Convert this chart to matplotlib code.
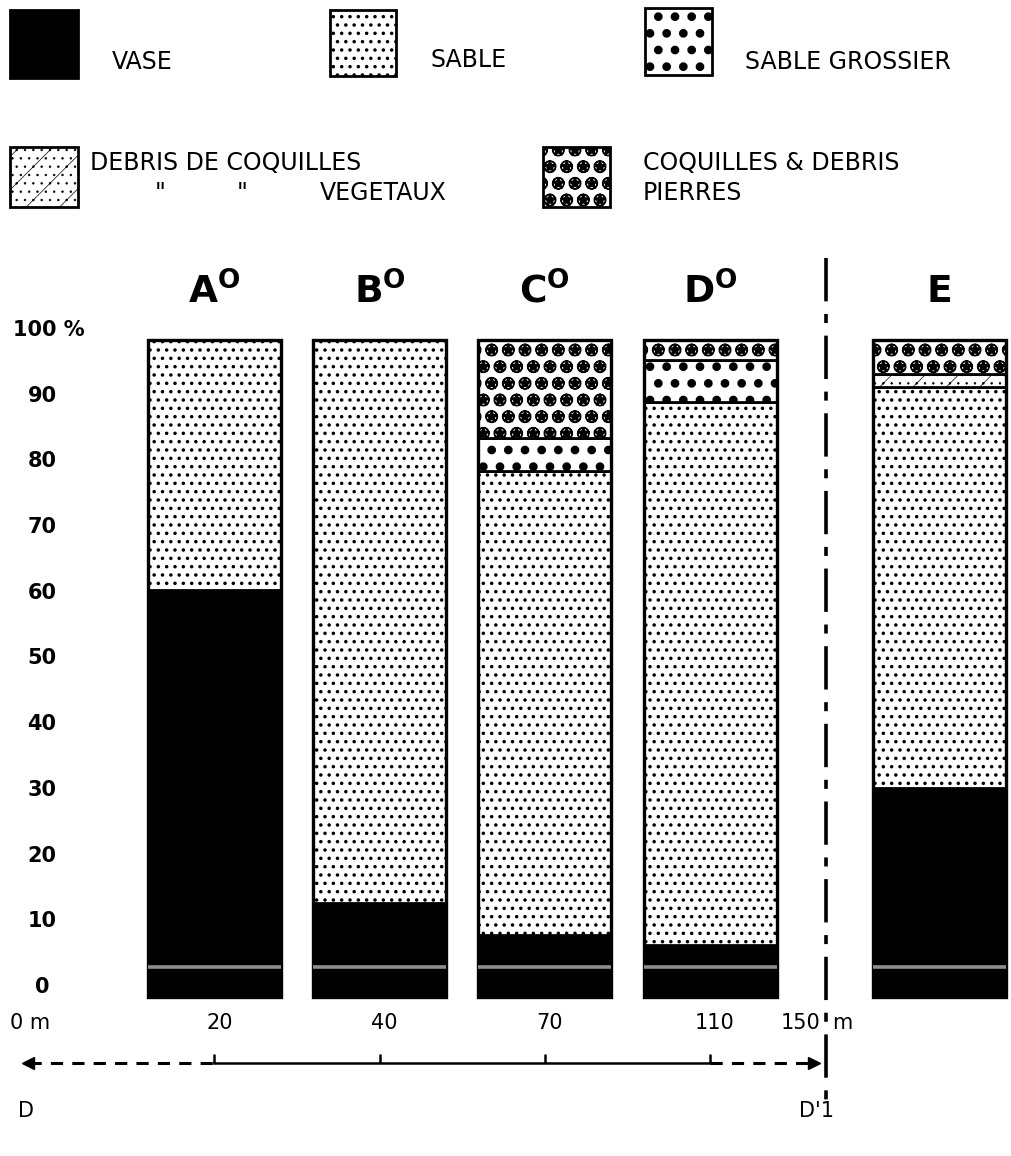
import matplotlib
matplotlib.use('Agg')
from matplotlib import pyplot as plt
from matplotlib import transforms
from matplotlib.patches import Rectangle

plt.rcParams['font.family'] = ['DejaVu Sans']

# stations and layer thickness in % (bottom -> top)
stations = ['A', 'B', 'C', 'D', 'E']
vase = [62.0, 14.3, 9.4, 7.9, 31.8]
sable = [38.0, 85.7, 70.6, 82.7, 61.0]
sable_grossier = [0.0, 0.0, 5.1, 6.4, 0.0]
debris_coquilles = [0.0, 0.0, 0.0, 0.0, 2.0]
coquilles_pierres = [0.0, 0.0, 14.9, 3.0, 5.2]

# distances along the profile D - D'1 (m)
distances = [20, 40, 70, 110]
y_ticks = [0, 10, 20, 30, 40, 50, 60, 70, 80, 90, 100]

W, H = 1011, 1156
# bar centres (E set apart beyond the dash-dot limit)
xpos = [0, 1, 2, 3, 4.39]
x_limit = 3.70
bar_w = 0.805

styles = {
    'VASE': dict(facecolor='black', hatch=None, hlw=1.0),
    'SABLE': dict(facecolor='white', hatch='..', hlw=1.3),
    'SABLE GROSSIER': dict(facecolor='white', hatch='.', hlw=3.8),
    'DEBRIS': dict(facecolor='white', hatch='/..', hlw=0.5),
    'COQUILLES': dict(facecolor='white', hatch='O*', hlw=0.9),
}


def styled(patch, key):
    st = styles[key]
    patch.set_facecolor(st['facecolor'])
    if st['hatch']:
        patch.set_hatch(st['hatch'])
    if hasattr(patch, 'set_hatch_linewidth'):
        patch.set_hatch_linewidth(st['hlw'])
    return patch


fig = plt.figure(figsize=(W / 100, H / 100), dpi=100)
fig.patch.set_facecolor('white')
ax = fig.add_axes([0, 0, 1, 1])
ax.axis('off')
ax.set_xlim(-214.5 / 165.2, (W - 214.5) / 165.2)
ax.set_ylim(-(H - 997) / 6.57, 997 / 6.57)

layers = [('VASE', vase), ('SABLE', sable), ('SABLE GROSSIER', sable_grossier),
          ('DEBRIS', debris_coquilles), ('COQUILLES', coquilles_pierres)]
bottoms = [0.0] * len(stations)
for key, vals in layers:
    for i, v in enumerate(vals):
        if v <= 0:
            continue
        with plt.rc_context({'hatch.linewidth': styles[key]['hlw']}):
            bars = ax.bar(xpos[i], v, width=bar_w, bottom=bottoms[i],
                          edgecolor='black', linewidth=2.0)
        styled(bars[0], key)
        bottoms[i] += v

# outer frame of each column
for x in xpos:
    ax.add_patch(Rectangle((x - bar_w / 2, 0), bar_w, 100, fill=False,
                           edgecolor='black', linewidth=2.4))

# scan stripe in the mud layer
for x in xpos:
    ax.hlines(4.5, x - bar_w / 2, x + bar_w / 2, color='#8e8e8e', lw=2.6)

# column headers
for i, s in enumerate(stations):
    label = s if s == 'E' else s + r'$^{\mathregular{O}}$'
    ax.text(xpos[i], 107.3, label, ha='center', va='center',
            fontsize=27, fontweight='bold')

# dash-dot limit line
ax.plot([x_limit, x_limit], [112.5, -16.5], color='black', lw=2.6,
        linestyle=(0, (12, 3.5, 2.5, 3.5)), solid_capstyle='butt')

# y labels
tr = transforms.blended_transform_factory(fig.transFigure, ax.transData)
up = transforms.ScaledTranslation(0, 0.10, fig.dpi_scale_trans)
for v in y_ticks:
    if v == 100:
        ax.text(13 / W, v, '100 %', transform=tr + up, ha='left', va='center',
                fontsize=15, fontweight='bold')
    else:
        ax.text(42 / W, v, str(v), transform=tr + up, ha='center', va='center',
                fontsize=15, fontweight='bold')

# distance scale
y_scale = -10.0
ax.text(-1.24, -4.0, '0 m', ha='left', va='center', fontsize=15)
for i, d in enumerate(distances):
    ax.text(xpos[i] + 0.03, -4.0, str(d), ha='center', va='center', fontsize=15)
ax.text(x_limit - 0.03, -4.0, '150', ha='right', va='center', fontsize=15)
ax.text(x_limit + 0.04, -4.0, 'm', ha='left', va='center', fontsize=15)
ax.plot([xpos[0], xpos[3]], [y_scale, y_scale], color='black', lw=1.8)
ax.vlines(xpos[:4], y_scale, y_scale + 1.3, color='black', lw=1.8)
ax.plot([-1.12, xpos[0]], [y_scale, y_scale], color='black', lw=2.2,
        linestyle=(0, (4, 3)))
ax.plot([xpos[3], x_limit - 0.06], [y_scale, y_scale], color='black', lw=2.2,
        linestyle=(0, (4, 3)))
ax.plot([-1.13], [y_scale], marker='<', color='black', markersize=9)
ax.plot([x_limit - 0.07], [y_scale], marker='>', color='black', markersize=9)
ax.text(-1.19, -17.3, 'D', ha='left', va='center', fontsize=15)
ax.text(x_limit - 0.16, -17.3, "D'1", ha='left', va='center', fontsize=15)


# legend drawn at the top of the sheet
def swatch(x, y, w, h, key):
    with plt.rc_context({'hatch.linewidth': styles[key]['hlw']}):
        r = Rectangle((x / W, 1 - (y + h) / H), w / W, h / H,
                      transform=fig.transFigure, edgecolor='black', linewidth=2.0)
    styled(r, key)
    fig.add_artist(r)


def label(x, y, s, ha='left'):
    fig.text(x / W, 1 - y / H, s, ha=ha, va='center', fontsize=17)


swatch(10, 10, 68, 68, 'VASE')
label(112, 62, 'VASE')
swatch(330, 10, 66, 66, 'SABLE')
label(430, 60, 'SABLE')
swatch(645, 8, 67, 67, 'SABLE GROSSIER')
label(745, 62, 'SABLE GROSSIER')
swatch(10, 147, 68, 60, 'DEBRIS')
label(90, 163, 'DEBRIS DE COQUILLES')
label(155, 193, '"')
label(237, 193, '"')
label(447, 193, 'VEGETAUX', ha='right')
swatch(543, 147, 67, 60, 'COQUILLES')
label(643, 163, 'COQUILLES & DEBRIS')
label(643, 193, 'PIERRES')

fig.savefig('out.png', dpi=100, facecolor='white')
